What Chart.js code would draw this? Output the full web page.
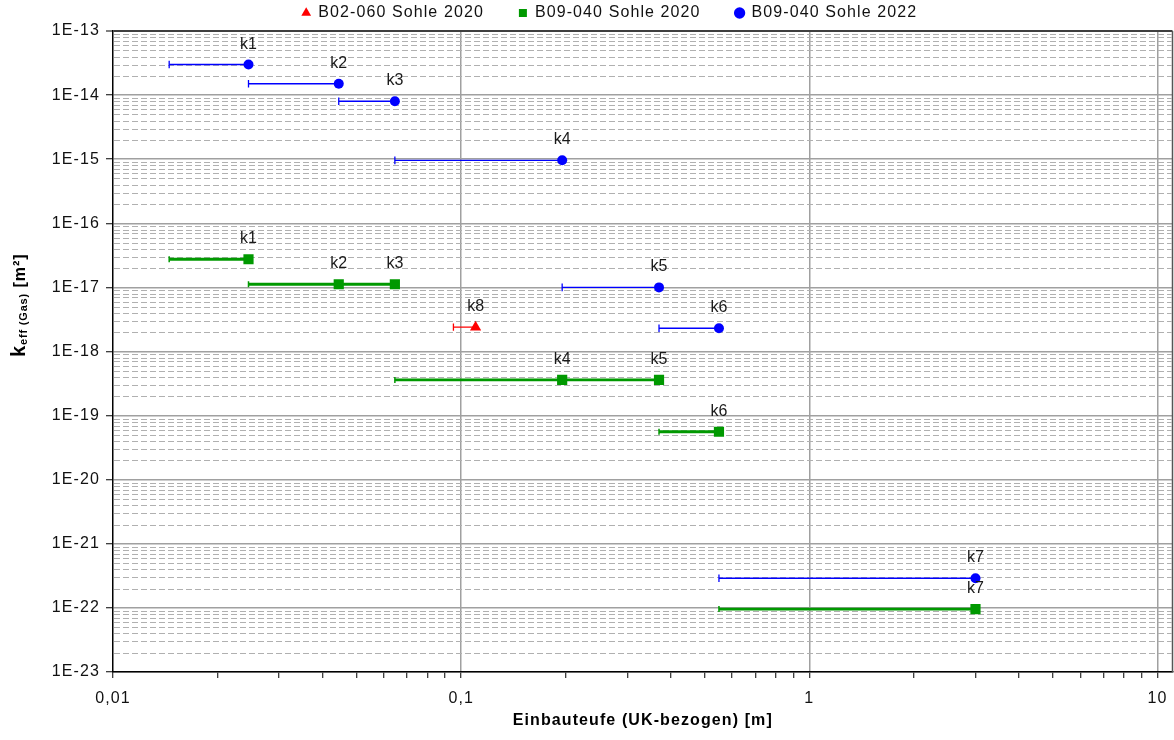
<!DOCTYPE html>
<html><head><meta charset="utf-8">
<script src="https://cdn.jsdelivr.net/npm/chart.js@4.4.1/dist/chart.umd.min.js"></script>
<style>html,body{margin:0;padding:0;background:#fff;}#wrap{width:1174px;height:740px;}</style>
</head><body>
<div id="wrap"><canvas id="c" width="1174" height="740"></canvas></div>
<script>
const FONT = "'Liberation Sans', Arial, sans-serif";

// ---- data ----
const seriesNames = ['B02-060 Sohle 2020', 'B09-040 Sohle 2020', 'B09-040 Sohle 2022'];

const namesB02 = ['k8'];
const depthFromB02 = [0.095];
const depthToB02 = [0.11];
const keffB02 = [2.4e-18];

const names2020 = ['k1', 'k2', 'k3', 'k4', 'k5', 'k6', 'k7'];
const depthFrom2020 = [0.0145, 0.0245, 0.0445, 0.0645, 0.195, 0.37, 0.55];
const depthTo2020 = [0.0245, 0.0445, 0.0645, 0.195, 0.37, 0.55, 3.0];
const keff2020 = [2.75e-17, 1.12e-17, 1.12e-17, 3.6e-19, 3.6e-19, 5.6e-20, 9.6e-23];

const names2022 = ['k1', 'k2', 'k3', 'k4', 'k5', 'k6', 'k7'];
const depthFrom2022 = [0.0145, 0.0245, 0.0445, 0.0645, 0.195, 0.37, 0.55];
const depthTo2022 = [0.0245, 0.0445, 0.0645, 0.195, 0.37, 0.55, 3.0];
const keff2022 = [3.0e-14, 1.5e-14, 8.0e-15, 9.6e-16, 1.0e-17, 2.3e-18, 2.9e-22];

const xTickValues = [0.01, 0.1, 1, 10];
const xTickLabels = ['0,01', '0,1', '1', '10'];
const yTickValues = [1e-23, 1e-22, 1e-21, 1e-20, 1e-19, 1e-18, 1e-17, 1e-16, 1e-15, 1e-14, 1e-13];
const yTickLabels = ['1E-23', '1E-22', '1E-21', '1E-20', '1E-19', '1E-18', '1E-17', '1E-16', '1E-15', '1E-14', '1E-13'];
const xAxisTitle = 'Einbauteufe (UK-bezogen) [m]';
const yAxisTitleMain = 'k';
const yAxisTitleSub = 'eff (Gas)';
const yAxisTitleUnit = ' [m²]';

// ---- helpers ----
const near = (a, b) => Math.abs(a - b) / b < 1e-6;
const xAllTicks = [];
xTickValues.forEach((v, i) => {
  if (i === xTickValues.length - 1) { xAllTicks.push(v); return; }
  for (let k = 1; k <= 9; k++) xAllTicks.push(Number((k * v).toPrecision(6)));
});
const yMinorValues = [];
yTickValues.forEach((v, i) => {
  if (i === yTickValues.length - 1) return;
  for (let k = 2; k <= 9; k++) yMinorValues.push(k * v);
});
const points = (xs, ys) => xs.map((x, i) => ({x: x, y: ys[i]}));
const bars = (from, to, ys) => {
  const d = [];
  from.forEach((f, i) => { d.push({x: f, y: ys[i]}, {x: to[i], y: ys[i]}, {x: to[i], y: null}); });
  return d;
};

const RED = '#ff0000', GREEN = '#009900', BLUE = '#0000ff';
const PAD_LEFT = 47;

const spacingPlugin = {
  id: 'spacing',
  beforeUpdate(chart) { chart.ctx.letterSpacing = '1.1px'; },
  beforeDraw(chart) { chart.ctx.letterSpacing = '1.1px'; }
};

const gridPlugin = {
  id: 'minorGrid',
  beforeDatasetsDraw(chart) {
    const {ctx, chartArea: a, scales: {y}} = chart;
    ctx.save();
    ctx.strokeStyle = '#b0b0b0';
    ctx.lineWidth = 1;
    ctx.setLineDash([6, 3]);
    yMinorValues.forEach(v => {
      const py = Math.round(y.getPixelForValue(v)) + 0.5;
      ctx.beginPath(); ctx.moveTo(a.left + 1, py); ctx.lineTo(a.right - 1, py); ctx.stroke();
    });
    ctx.setLineDash([]);
    ctx.strokeStyle = '#555';
    ctx.lineWidth = 1.5;
    ctx.beginPath(); ctx.moveTo(a.right, a.top); ctx.lineTo(a.right, a.bottom); ctx.stroke();
    ctx.restore();
  }
};

const labelPlugin = {
  id: 'pointLabels',
  afterDatasetsDraw(chart) {
    const ctx = chart.ctx;
    const sets = [namesB02, names2020, names2022];
    ctx.save();
    ctx.letterSpacing = '0px';
    ctx.font = '16px ' + FONT;
    ctx.fillStyle = '#1a1a1a';
    ctx.textAlign = 'center';
    ctx.textBaseline = 'alphabetic';
    sets.forEach((names, di) => {
      chart.getDatasetMeta(di).data.forEach((el, i) => {
        ctx.fillText(names[i], el.x, el.y - 16);
      });
    });
    ctx.restore();
  }
};

const yTitlePlugin = {
  id: 'yTitle',
  afterDraw(chart) {
    const ctx = chart.ctx;
    ctx.save();
    ctx.translate(25, 357);
    ctx.rotate(-Math.PI / 2);
    ctx.textAlign = 'left';
    ctx.textBaseline = 'alphabetic';
    ctx.fillStyle = '#000';
    ctx.letterSpacing = '0px';
    ctx.font = 'bold 20px ' + FONT;
    ctx.fillText(yAxisTitleMain, 0, 0);
    let x = ctx.measureText(yAxisTitleMain).width + 1;
    ctx.letterSpacing = '0.8px';
    ctx.font = 'bold 11px ' + FONT;
    ctx.fillText(yAxisTitleSub, x, 1.5);
    x += ctx.measureText(yAxisTitleSub).width;
    ctx.letterSpacing = '1px';
    ctx.font = 'bold 16px ' + FONT;
    ctx.fillText(yAxisTitleUnit, x, 0);
    ctx.restore();
  }
};

const capRadius = r => (c => (c.dataIndex % 3 === 0 ? r : 0));

new Chart(document.getElementById('c'), {
  type: 'scatter',
  data: {
    datasets: [
      {label: seriesNames[0], data: points(depthToB02, keffB02), pointStyle: 'triangle', pointRadius: 6.5,
       backgroundColor: RED, borderColor: RED, pointBorderWidth: 0, order: 0},
      {label: seriesNames[1], data: points(depthTo2020, keff2020), pointStyle: 'rect', pointRadius: 7.2,
       backgroundColor: GREEN, borderColor: GREEN, pointBorderWidth: 0, order: 0},
      {label: seriesNames[2], data: points(depthTo2022, keff2022), pointStyle: 'circle', pointRadius: 5,
       backgroundColor: BLUE, borderColor: BLUE, pointBorderWidth: 0, order: 0},
      {label: 'barsB02', data: bars(depthFromB02, depthToB02, keffB02), showLine: true, spanGaps: false,
       borderColor: RED, borderWidth: 1.3, pointStyle: 'line', pointRotation: 90, pointRadius: capRadius(3.6),
       pointBorderColor: RED, pointBorderWidth: 1.3, order: 1},
      {label: 'bars2020', data: bars(depthFrom2020, depthTo2020, keff2020), showLine: true, spanGaps: false,
       borderColor: GREEN, borderWidth: 2.8, pointStyle: 'line', pointRotation: 90, pointRadius: capRadius(3),
       pointBorderColor: GREEN, pointBorderWidth: 1.5, order: 1},
      {label: 'bars2022', data: bars(depthFrom2022, depthTo2022, keff2022), showLine: true, spanGaps: false,
       borderColor: BLUE, borderWidth: 1.4, pointStyle: 'line', pointRotation: 90, pointRadius: capRadius(3.8),
       pointBorderColor: BLUE, pointBorderWidth: 1.3, order: 1}
    ]
  },
  options: {
    responsive: false,
    animation: false,
    devicePixelRatio: 1,
    events: [],
    layout: {autoPadding: false, padding: {top: -30, left: PAD_LEFT, right: 1.5, bottom: 0}},
    plugins: {
      tooltip: {enabled: false},
      legend: {
        position: 'top',
        labels: {
          usePointStyle: true, boxWidth: 8, boxHeight: 8, padding: 35,
          font: {size: 16, family: FONT}, color: '#111',
          filter: item => item.datasetIndex < 3
        }
      }
    },
    scales: {
      x: {
        type: 'logarithmic', min: 0.01, max: 11.04, position: 'bottom',
        afterBuildTicks: s => { s.ticks = xAllTicks.map(v => ({value: v})); },
        afterFit: s => { s.height = 68; s.paddingRight = 0; s.paddingLeft = 0; },
        ticks: {
          autoSkip: false, maxRotation: 0, minRotation: 0, padding: 11,
          font: {size: 16, family: FONT}, color: '#111',
          callback: v => { const i = xTickValues.findIndex(t => near(v, t)); return i >= 0 ? xTickLabels[i] : ''; }
        },
        grid: {
          color: c => (c.tick && !near(c.tick.value, 0.01) && xTickValues.some(t => near(c.tick.value, t))) ? '#a0a0a0' : 'rgba(0,0,0,0)',
          lineWidth: 1.5, tickColor: '#000', tickLength: 6, tickWidth: 1
        },
        border: {color: '#000', width: 1.5},
        title: {display: true, text: xAxisTitle, font: {size: 16, weight: 'bold', family: FONT}, color: '#000', padding: {top: 4, bottom: 10}}
      },
      y: {
        type: 'logarithmic', min: 1e-23, max: 1e-13,
        afterBuildTicks: s => { s.ticks = yTickValues.map(v => ({value: v})); },
        afterFit: s => { s.width = 113 - PAD_LEFT; },
        ticks: {
          autoSkip: false, padding: 6,
          font: {size: 16, family: FONT}, color: '#111',
          callback: v => { const i = yTickValues.findIndex(t => near(v, t)); return i >= 0 ? yTickLabels[i] : ''; }
        },
        grid: {
          color: c => (c.tick && near(c.tick.value, 1e-13)) ? '#404040' : '#a0a0a0',
          lineWidth: c => (c.tick && near(c.tick.value, 1e-13)) ? 2 : 1.5,
          tickColor: '#000', tickLength: 7, tickWidth: 1
        },
        border: {color: '#000', width: 1.5}
      }
    }
  },
  plugins: [spacingPlugin, gridPlugin, labelPlugin, yTitlePlugin]
});
</script>
</body></html>
